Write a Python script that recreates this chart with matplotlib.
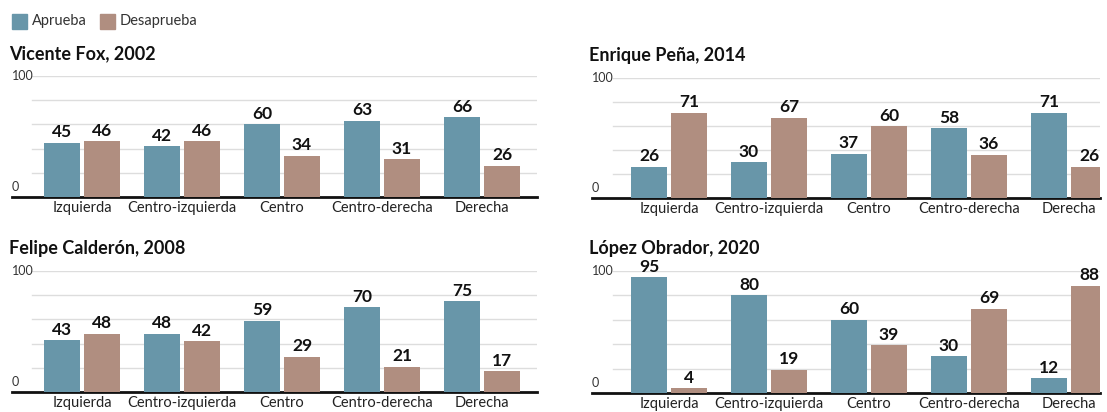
import matplotlib.pyplot as plt
import numpy as np

plt.rcParams['font.family'] = ['Lato', 'DejaVu Sans']

categorias = ["Izquierda", "Centro-izquierda", "Centro", "Centro-derecha", "Derecha"]

fox_aprueba = [45, 42, 60, 63, 66]
fox_desaprueba = [46, 46, 34, 31, 26]
pena_aprueba = [26, 30, 37, 58, 71]
pena_desaprueba = [71, 67, 60, 36, 26]
calderon_aprueba = [43, 48, 59, 70, 75]
calderon_desaprueba = [48, 42, 29, 21, 17]
amlo_aprueba = [95, 80, 60, 30, 12]
amlo_desaprueba = [4, 19, 39, 69, 88]

azul = "#6896a9"
cafe = "#b08e80"

W, H = 1107, 412
fig = plt.figure(figsize=(W / 100, H / 100), dpi=100)


def px_axes(x0, x1, ytop, ybot):
    return fig.add_axes([x0 / W, 1 - ybot / H, (x1 - x0) / W, (ybot - ytop) / H])


def panel(ax, titulo, aprueba, desaprueba, xlim, grid_start):
    x = np.arange(len(categorias))
    ax.bar(x - 0.2, aprueba, width=0.36, color=azul, zorder=3)
    ax.bar(x + 0.2, desaprueba, width=0.36, color=cafe, zorder=3)
    for i in range(len(x)):
        ax.text(x[i] - 0.2, aprueba[i] + 2, str(aprueba[i]), ha='center', va='bottom',
                fontsize=12.5, fontweight='bold', color='#111111', clip_on=False)
        ax.text(x[i] + 0.2, desaprueba[i] + 2, str(desaprueba[i]), ha='center', va='bottom',
                fontsize=12.5, fontweight='bold', color='#111111', clip_on=False)
    ax.set_xlim(xlim[0], xlim[1])
    ax.set_ylim(0, 100)
    # lineas guia grises cada 20
    for y in [20, 40, 60, 80, 100]:
        ax.axhline(y, xmin=grid_start, xmax=1, color='#dddddd', lw=1, zorder=1)
    for s in ['top', 'right', 'left']:
        ax.spines[s].set_visible(False)
    ax.spines['bottom'].set_color('#111111')
    ax.spines['bottom'].set_linewidth(2)
    ax.set_yticks([])
    ax.set_xticks(x)
    ax.set_xticklabels(categorias, fontsize=10.5, color='#222222')
    ax.tick_params(axis='x', length=0, pad=3)
    ax.text(0.0, 100, "100", transform=ax.get_yaxis_transform(), ha='left', va='center',
            fontsize=9, color='#333333')
    ax.text(0.0, 3, "0", transform=ax.get_yaxis_transform(), ha='left', va='bottom',
            fontsize=9, color='#333333')
    ax.set_title(titulo, loc='left', fontsize=13, fontweight='bold', color='#111111', pad=12, x=-0.005)


# izquierda: ejes de 12 a 537 px, grupos centrados en 82, 182, ...
ax1 = px_axes(12, 537, 76, 197)
panel(ax1, "Vicente Fox, 2002", fox_aprueba, fox_desaprueba, (-0.70, 4.55), 20 / 525)
ax3 = px_axes(12, 537, 271, 392)
panel(ax3, "Felipe Calderón, 2008", calderon_aprueba, calderon_desaprueba, (-0.70, 4.55), 20 / 525)
# derecha: ejes de 592 a 1100 px
ax2 = px_axes(592, 1100, 78, 198)
panel(ax2, "Enrique Peña, 2014", pena_aprueba, pena_desaprueba, (-0.77, 4.31), 21 / 508)
ax4 = px_axes(592, 1100, 271, 393)
panel(ax4, "López Obrador, 2020", amlo_aprueba, amlo_desaprueba, (-0.77, 4.31), 21 / 508)

# leyenda
fig.patches.append(plt.Rectangle((12 / W, 1 - 29 / H), 15 / W, 15 / H, color=azul, transform=fig.transFigure))
fig.text(32 / W, 1 - 21 / H, "Aprueba", fontsize=10.5, color='#333333', va='center')
fig.patches.append(plt.Rectangle((100 / W, 1 - 29 / H), 15 / W, 15 / H, color=cafe, transform=fig.transFigure))
fig.text(120 / W, 1 - 21 / H, "Desaprueba", fontsize=10.5, color='#333333', va='center')

fig.savefig("out.png", dpi=100, facecolor='white')
